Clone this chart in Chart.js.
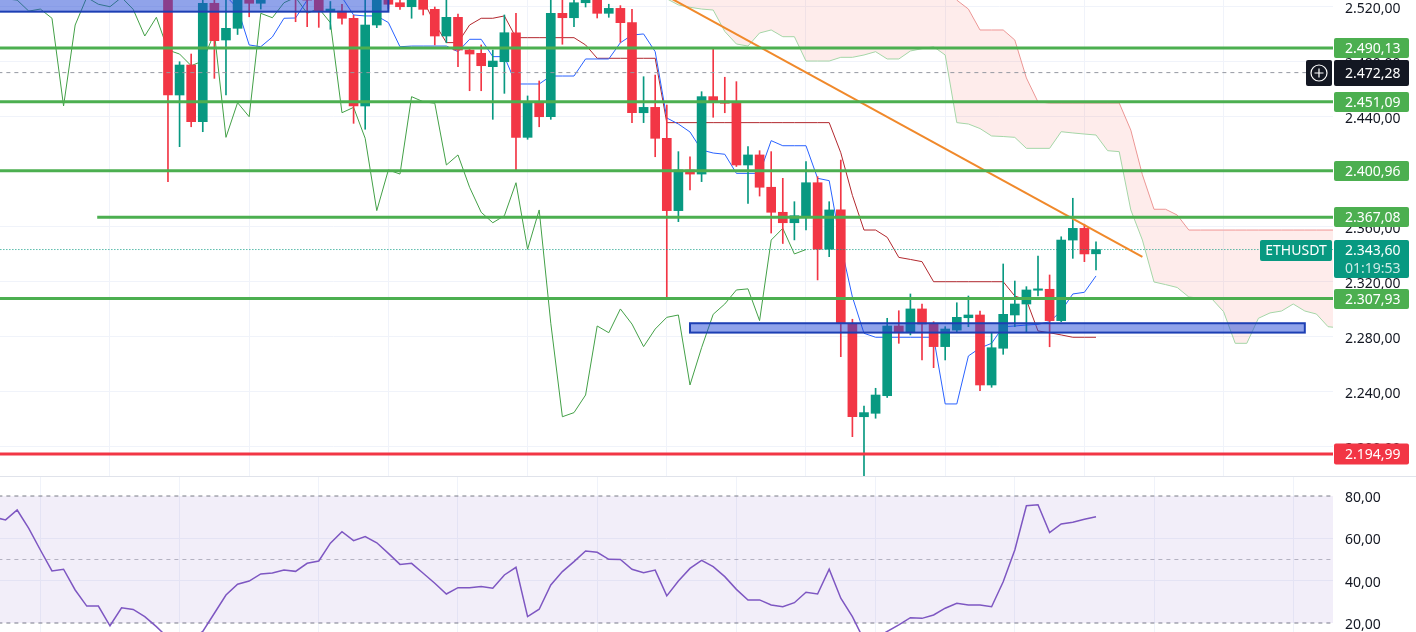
<!DOCTYPE html>
<html>
<head>
<meta charset="utf-8">
<title>ETHUSDT</title>
<script src="https://cdn.jsdelivr.net/npm/chart.js@4.4.1/dist/chart.umd.min.js"></script>
<style>
  body { margin: 0; background: #fff; width: 1416px; height: 632px; overflow: hidden; }
  #price_chart { position: absolute; left: 0; top: 0; }
  #pane_split { position: absolute; left: 0; top: 476px; width: 1416px; height: 1px; background: #e0e3eb; }
  #rsi_chart { position: absolute; left: 0; top: 477px; }
</style>
</head>
<body>
<canvas id="price_chart" width="1416" height="476"></canvas>
<div id="pane_split"></div>
<canvas id="rsi_chart" width="1416" height="155"></canvas>
<script>
// ---- candles (bar index starts at firstBar) ----
const firstBar = 14;
const opens = [2535, 2456, 2477.8, 2436.6, 2522.7, 2496, 2504.5, 2532, 2522.7, 2533,
  2541, 2534, 2526, 2525, 2517, 2517, 2511.8, 2448, 2506.9, 2530,
  2523.1, 2520.2, 2530, 2518.3, 2498.9, 2512.5, 2488.7, 2486.3, 2476.6, 2480.2,
  2501.3, 2425.2, 2450.4, 2440.2, 2515.4, 2512.2, 2523.1, 2527, 2515.4, 2519,
  2508.6, 2443.1, 2447, 2424.5, 2371.9, 2401.5, 2398.5, 2454.8, 2451.6, 2450,
  2405.1, 2412.4, 2388.9, 2370.7, 2363.1, 2368.2, 2392.2, 2343.8, 2372.4, 2290,
  2222, 2224.5, 2237.3, 2288, 2283.1, 2300.4, 2290, 2273, 2285, 2294,
  2296, 2245.1, 2271.8, 2296, 2304, 2314, 2314.7, 2291.9, 2350.5, 2359,
  2340.5];
const highs = [2545, 2480.2, 2485.8, 2530, 2527, 2527, 2536, 2536, 2540, 2548,
  2550, 2540, 2531, 2530, 2524, 2522, 2514, 2526, 2532, 2534,
  2527, 2530, 2533, 2520, 2527, 2514.9, 2490, 2492.4, 2488.7, 2514.2,
  2515.4, 2455.3, 2466.2, 2528, 2527, 2527, 2532, 2530, 2522, 2521,
  2518.3, 2469.3, 2470.5, 2448.7, 2414.8, 2411.1, 2458.4, 2489.2, 2468.9, 2465.7,
  2418.4, 2415.5, 2414.8, 2395.4, 2378.4, 2407.5, 2396.6, 2378.4, 2408.7, 2292.9,
  2229.8, 2242.7, 2293.6, 2299.1, 2311.3, 2304, 2291.1, 2287.5, 2304.9, 2309.8,
  2298.9, 2282.7, 2333.1, 2320.7, 2316.6, 2338.9, 2325.1, 2352.9, 2380.9, 2362,
  2349.3];
const lows = [2393, 2418.4, 2432.9, 2429.3, 2468.1, 2456, 2500, 2512.9, 2518.5, 2526,
  2528, 2509.3, 2505.7, 2505.2, 2503.8, 2507.6, 2435.4, 2431.1, 2505, 2519,
  2518.3, 2511.8, 2514.2, 2492.4, 2494, 2476.6, 2459.1, 2459.1, 2438.3, 2457.2,
  2400.2, 2423.8, 2432.9, 2438.3, 2492.9, 2505.7, 2520, 2512, 2512.5, 2494.3,
  2435.9, 2435.9, 2411.1, 2307.4, 2363.9, 2386.9, 2393, 2439.8, 2443.1, 2404,
  2377.2, 2382.5, 2355.6, 2348, 2350.6, 2357.8, 2321.5, 2338.4, 2265.7, 2207.5,
  2179, 2220.9, 2236, 2275.4, 2281.5, 2263.3, 2257.7, 2263.3, 2283.9, 2287.5,
  2240.9, 2243.4, 2267.4, 2287.5, 2283.9, 2309.8, 2272.9, 2291.1, 2337.2, 2334.8,
  2328.7];
const closes = [2456, 2477.8, 2436.6, 2522.7, 2495.5, 2504.5, 2530, 2522.7, 2533, 2541,
  2534, 2526, 2525, 2517, 2518.5, 2511.8, 2448, 2506.9, 2527, 2522,
  2520.2, 2527, 2518.3, 2498.9, 2512.5, 2488.7, 2485.8, 2477.3, 2480.7, 2501.3,
  2425.2, 2450.4, 2440.2, 2515.4, 2512.2, 2523.1, 2527, 2515.4, 2519, 2508.6,
  2443.1, 2447, 2424.5, 2371.9, 2401.5, 2398.5, 2454.8, 2451.1, 2450, 2405.1,
  2412.4, 2388.9, 2370.7, 2363.1, 2368.2, 2392.2, 2343.8, 2372.4, 2290, 2222,
  2225, 2237.8, 2288, 2283.1, 2300.4, 2289.4, 2273, 2285.8, 2294.3, 2296,
  2245.1, 2272.2, 2296.5, 2304, 2314.2, 2315, 2291.9, 2350.5, 2359, 2340.4,
  2343.6];

// ---- ichimoku ----
const tenkanStart = 19;
const tenkan = [2528, 2519, 2492.4, 2491.1, 2498.2, 2511.8, 2512, 2525, 2528, 2528,
  2527, 2514.2, 2513.5, 2513.5, 2508.7, 2491.1, 2491.6, 2491.6, 2491.6, 2491.6,
  2487.5, 2496.5, 2496.5, 2483.9, 2483.9, 2464, 2464, 2464, 2469.8, 2469.8,
  2469.8, 2482.2, 2482.2, 2482.2, 2494, 2499.6, 2500.4, 2487.5, 2439.3, 2434.9,
  2429.1, 2416, 2413.8, 2412.9, 2399, 2399, 2399, 2422.8, 2419.1, 2419.1,
  2419.1, 2395.4, 2393.7, 2347, 2309.1, 2282.7, 2279.8, 2279.8, 2279.8, 2279.8,
  2279.8, 2279.8, 2231.3, 2231.3, 2266.2, 2272, 2275.4, 2287.5, 2288, 2288.7,
  2289.2, 2291.1, 2298.9, 2311.3, 2312.5, 2324.4];
const kijunStart = 30;
const kijun = [2532, 2532, 2532, 2532, 2532, 2530, 2525, 2508, 2494.1, 2494.1,
  2506.9, 2511.8, 2511.8, 2513.5, 2497.7, 2497.7, 2497.7, 2497.7, 2497.7, 2497.7,
  2492.4, 2482.7, 2482.7, 2482.7, 2482.7, 2482.7, 2482.7, 2435.9, 2435.9, 2435.9,
  2435.9, 2435.9, 2435.9, 2435.9, 2435.9, 2435.9, 2435.9, 2435.9, 2435.9, 2435.9,
  2435.9, 2435.9, 2414, 2383, 2357.8, 2357.8, 2352.5, 2337.9, 2336.4, 2334.8,
  2320.2, 2320.2, 2320.2, 2320.2, 2320.2, 2320.2, 2320.2, 2309.8, 2306.9, 2284.4,
  2283.1, 2281.5, 2279.8, 2279.8, 2279.8];
const laggingStart = -1;
const lagging = [2534, 2526, 2525, 2517, 2518.5, 2511.8, 2448, 2506.9, 2527, 2522, 2520.2,
  2527, 2518.3, 2498.9, 2512.5, 2488.7, 2485.8, 2477.3, 2480.7, 2501.3, 2425.2,
  2450.4, 2440.2, 2515.4, 2512.2, 2523.1, 2527, 2515.4, 2519, 2508.6, 2443.1,
  2447, 2424.5, 2371.9, 2401.5, 2398.5, 2454.8, 2451.1, 2450, 2405.1, 2412.4,
  2388.9, 2370.7, 2363.1, 2368.2, 2392.2, 2343.8, 2372.4, 2290, 2222, 2225,
  2237.8, 2288, 2283.1, 2300.4, 2289.4, 2273, 2285.8, 2294.3, 2296, 2245.1,
  2272.2, 2296.5, 2304, 2314.2, 2315, 2291.9, 2350.5, 2359, 2340.4, 2343.6];
const cloudStart = 55;
const spanA = [2540, 2535, 2526, 2521.5, 2519.8, 2518.5, 2517.8, 2502.2, 2493.1, 2491.6,
  2501.1, 2503.3, 2498.4, 2498.4, 2480.7, 2480.7, 2480.7, 2483.4, 2483.4, 2485.1,
  2487.5, 2482.2, 2482.2, 2488, 2489.7, 2491.1, 2485.1, 2435.9, 2434.9, 2431.6,
  2426.2, 2425.8, 2425.2, 2417.2, 2417.2, 2417.2, 2429.3, 2428.4, 2427.6, 2426.9,
  2415.5, 2414.8, 2372.4, 2350.5, 2320, 2318.1, 2316, 2309.1, 2308.1, 2307.6,
  2298.4, 2275.4, 2275.4, 2293.6, 2297.5, 2298.9, 2304, 2298.9, 2296.7, 2287.5,
  2286.6];
const spanB = [2540, 2540, 2540, 2540, 2540, 2540, 2540, 2540, 2540, 2540,
  2540, 2540, 2540, 2540, 2540, 2540, 2540, 2540, 2540, 2540,
  2540, 2540, 2540, 2540, 2540, 2540, 2540, 2525, 2518.5, 2503.3,
  2503.3, 2503.3, 2496, 2468.4, 2450.9, 2450.2, 2450.2, 2450.2, 2450.2, 2450.2,
  2450.2, 2450.2, 2430.5, 2398, 2372.9, 2372.9, 2368.7, 2357.8, 2357.8, 2357.8,
  2357.8, 2357.8, 2357.8, 2357.8, 2357.8, 2357.8, 2357.8, 2357.8, 2357.8, 2357.8,
  2357.8];

// ---- drawings ----
const levels = [2490.13, 2451.09, 2400.96, 2367.08, 2307.93];
const levelFrom = [-2, -2, -2, 7.9, -2];
const supportLevel = 2194.99;
const markPrice = 2472.28;
const lastPrice = 2343.60;
const lastTimer = '01:19:53';
const symbol = 'ETHUSDT';
const trendBars = [55, 98];
const trendPrices = [2537.2, 2338.3];
const zoneFrom = [-2, 59];
const zoneTo = [33, 112];
const zoneLow = [2516.6, 2283.2];
const zoneHigh = [2545, 2290];
const priceTicks = [2200, 2240, 2280, 2320, 2360, 2400, 2440, 2480, 2520];
const gridBars = [3, 15, 27, 39, 51, 63, 75, 87, 99, 111];

// ---- RSI ----
const rsiStart = -1;
const rsiVals = [70, 68.7, 73.4, 64.7, 54.5, 44.6, 45.4, 35.6, 28, 28,
  18.7, 27.2, 26.4, 23, 18.3, 13, 11, 12.5, 16, 24.6,
  33.2, 38.3, 39.8, 43.2, 43.6, 45, 44.4, 48.2, 49.3, 57.7,
  63.1, 58.9, 60.8, 57.9, 52.9, 47.7, 48.2, 43.5, 38.8, 33.7,
  36.7, 36.7, 37.2, 36.4, 42.7, 46.3, 23, 26.5, 38, 44.3,
  49, 54, 53.4, 50.1, 50, 45.4, 43.8, 45, 32.8, 39.8,
  45.8, 49.6, 46.6, 41.9, 35.9, 30.9, 30.9, 28.5, 27.7, 29.6,
  34.5, 33.7, 45.4, 31.7, 23, 12, 13, 16, 19.1, 22.5,
  22.2, 23.8, 27, 29.3, 28.5, 28.5, 27.7, 39.5, 54.5, 75.4,
  75.9, 62.7, 66.8, 67.6, 69, 70.2];
const rsiTicks = [20, 40, 60, 80];
const rsiBands = [80, 50, 20];

const UP = '#089981';
const DOWN = '#f23645';
const LEVEL_GREEN = '#4caf50';
const GRID = '#f0f3fa';
const X_MIN = -0.48, X_MAX = 114.43;

Chart.defaults.font.family = "'Noto Sans', sans-serif";
Chart.defaults.font.size = 14;
Chart.defaults.color = '#131722';

// 2.343,60 style
function fmt(v) {
  const [a, b] = v.toFixed(2).split('.');
  return a.replace(/\B(?=(\d{3})+(?!\d))/g, '.') + ',' + b;
}
const series = (start, vals) => vals.map((v, k) => ({ x: start + k, y: v }));
const flat = (from, v) => [{ x: from, y: v }, { x: 130, y: v }];

const bodies = [], wicks = [], candleColors = [];
opens.forEach((o, k) => {
  bodies.push({ x: firstBar + k, y: [o, closes[k]] });
  wicks.push({ x: firstBar + k, y: [lows[k], highs[k]] });
  candleColors.push(closes[k] >= o ? UP : DOWN);
});

const lineDs = (data, color, width, order, extra) => Object.assign({
  type: 'line', data, borderColor: color, borderWidth: width, pointRadius: 0,
  tension: 0, fill: false, order
}, extra || {});

const datasets = [
  lineDs(flat(-2, supportLevel), '#f23645', 3, 0),
  ...levels.map((v, k) => lineDs(flat(levelFrom[k], v), LEVEL_GREEN, 3, 0)),
  lineDs(trendBars.map((b, k) => ({ x: b, y: trendPrices[k] })), '#f0892b', 2, 0),
  lineDs(flat(-2, markPrice), '#9598a1', 1, 0, { borderDash: [4, 4] }),
  lineDs(flat(-2, lastPrice), UP, 1, 0, { borderDash: [1, 2] }),
  { type: 'bar', data: bodies, backgroundColor: candleColors, barThickness: 9, grouped: false, minBarLength: 1, order: 1 },
  { type: 'bar', data: wicks, backgroundColor: candleColors, barThickness: 1, grouped: false, order: 2 },
  lineDs(series(tenkanStart, tenkan), '#2962ff', 1, 3),
  lineDs(series(kijunStart, kijun), '#b2282e', 1, 3),
  lineDs(series(laggingStart, lagging), '#43a047', 1, 3),
  lineDs(series(cloudStart, spanA), '#a5d6a7', 1, 4, {
    fill: { target: '+1', above: 'rgba(67,160,71,0.1)', below: 'rgba(244,67,54,0.1)' }
  }),
  lineDs(series(cloudStart, spanB), '#ef9a9a', 1, 4)
];

function roundBox(ctx, x, y, w, h, r, color) {
  ctx.fillStyle = color;
  ctx.beginPath();
  ctx.roundRect(x, y, w, h, r);
  ctx.fill();
}

// zones on the plot + price tags on the axis
const overlay = {
  id: 'overlay',
  afterDatasetsDraw(chart) {
    const { ctx, chartArea: a, scales: { x, y } } = chart;
    ctx.save();
    ctx.beginPath();
    ctx.rect(a.left, a.top, a.right - a.left, a.bottom - a.top);
    ctx.clip();
    zoneFrom.forEach((f, k) => {
      const x1 = x.getPixelForValue(f), x2 = x.getPixelForValue(zoneTo[k]);
      const y1 = y.getPixelForValue(zoneHigh[k]), y2 = y.getPixelForValue(zoneLow[k]);
      ctx.fillStyle = 'rgba(33,71,214,0.5)';
      ctx.fillRect(x1, y1, x2 - x1, y2 - y1);
      ctx.strokeStyle = '#1d3fb4';
      ctx.lineWidth = 2;
      ctx.strokeRect(x1, y1, x2 - x1, y2 - y1);
    });
    ctx.restore();
  },
  afterDraw(chart) {
    const { ctx, chartArea: a, scales: { y } } = chart;
    const left = a.right + 1, w = 75;
    ctx.save();
    ctx.font = "14px 'Noto Sans'";
    ctx.textBaseline = 'middle';

    const tag = (v, bg, h) => {
      const yc = Math.round(y.getPixelForValue(v));
      roundBox(ctx, left, yc - h / 2, w, h, 2, bg);
      ctx.fillStyle = '#fff';
      ctx.textAlign = 'left';
      ctx.fillText(fmt(v), left + 11, yc + 1);
      return yc;
    };
    levels.forEach(v => tag(v, LEVEL_GREEN, 20));
    tag(supportLevel, '#f23645', 21);

    // mark price + plus button
    const ym = tag(markPrice, '#131722', 26);
    roundBox(ctx, a.right - 27, ym - 13, 26, 26, 2, '#131722');
    ctx.strokeStyle = '#fff';
    ctx.lineWidth = 1.2;
    ctx.beginPath();
    ctx.arc(a.right - 14, ym, 8, 0, Math.PI * 2);
    ctx.moveTo(a.right - 18.5, ym); ctx.lineTo(a.right - 9.5, ym);
    ctx.moveTo(a.right - 14, ym - 4.5); ctx.lineTo(a.right - 14, ym + 4.5);
    ctx.stroke();

    // last price with countdown
    const yl = Math.round(y.getPixelForValue(lastPrice));
    roundBox(ctx, left, yl - 10, w, 38, 2, UP);
    ctx.fillStyle = '#fff';
    ctx.fillText(fmt(lastPrice), left + 11, yl + 1);
    ctx.fillStyle = 'rgba(255,255,255,0.8)';
    ctx.fillText(lastTimer, left + 11, yl + 19);
    roundBox(ctx, a.right - 73, yl - 10, 72, 21, 2, UP);
    ctx.fillStyle = '#fff';
    ctx.textAlign = 'center';
    ctx.fillText(symbol, a.right - 37, yl + 1);
    ctx.restore();
  }
};

// no label overhang: the plot runs edge to edge vertically
const noPad = s => { s.paddingTop = 0; s.paddingBottom = 0; s.paddingLeft = 0; s.paddingRight = 0; };

const xScale = {
  type: 'linear', min: X_MIN, max: X_MAX, offset: false,
  afterBuildTicks: s => { s.ticks = gridBars.map(v => ({ value: v })); },
  afterFit: s => { s.height = 0; noPad(s); },
  ticks: { display: false },
  grid: { color: GRID, drawTicks: false },
  border: { display: false }
};

new Chart(document.getElementById('price_chart'), {
  type: 'bar',
  data: { datasets },
  options: {
    responsive: false,
    animation: false,
    events: [],
    layout: { padding: 0 },
    plugins: { legend: { display: false }, tooltip: { enabled: false } },
    scales: {
      x: xScale,
      y: {
        position: 'right',
        min: 2178.9, max: 2525.09,
        afterBuildTicks: s => { s.ticks = priceTicks.map(v => ({ value: v })); },
        afterFit: s => { s.width = 83; noPad(s); },
        ticks: { padding: 12, labelOffset: 2, callback: v => fmt(v) },
        grid: { color: GRID, drawTicks: false },
        border: { display: false }
      }
    }
  },
  plugins: [overlay]
});

// RSI pane
const rsiDatasets = [
  { data: series(rsiStart, rsiVals), borderColor: '#7e57c2', borderWidth: 1.5, pointRadius: 0, tension: 0, order: 0 },
  { data: flat(-2, rsiBands[0]), borderColor: '#787b86', borderWidth: 1, borderDash: [4, 4], pointRadius: 0,
    fill: '+1', backgroundColor: 'rgba(126,87,194,0.1)', order: 1 },
  { data: flat(-2, rsiBands[2]), borderColor: '#787b86', borderWidth: 1, borderDash: [4, 4], pointRadius: 0, order: 1 },
  { data: flat(-2, rsiBands[1]), borderColor: 'rgba(120,123,134,0.5)', borderWidth: 1, borderDash: [4, 4], pointRadius: 0, order: 1 }
];

new Chart(document.getElementById('rsi_chart'), {
  type: 'line',
  data: { datasets: rsiDatasets },
  options: {
    responsive: false,
    animation: false,
    events: [],
    layout: { padding: 0 },
    plugins: { legend: { display: false }, tooltip: { enabled: false } },
    scales: {
      x: xScale,
      y: {
        position: 'right',
        min: 15.75, max: 88.98,
        afterBuildTicks: s => { s.ticks = rsiTicks.map(v => ({ value: v })); },
        afterFit: s => { s.width = 83; noPad(s); },
        ticks: { padding: 12, labelOffset: 2, callback: v => fmt(v) },
        grid: { color: c => (c.tick && (c.tick.value === 20 || c.tick.value === 80)) ? 'rgba(0,0,0,0)' : GRID, drawTicks: false },
        border: { display: false }
      }
    }
  }
});
</script>
</body>
</html>
